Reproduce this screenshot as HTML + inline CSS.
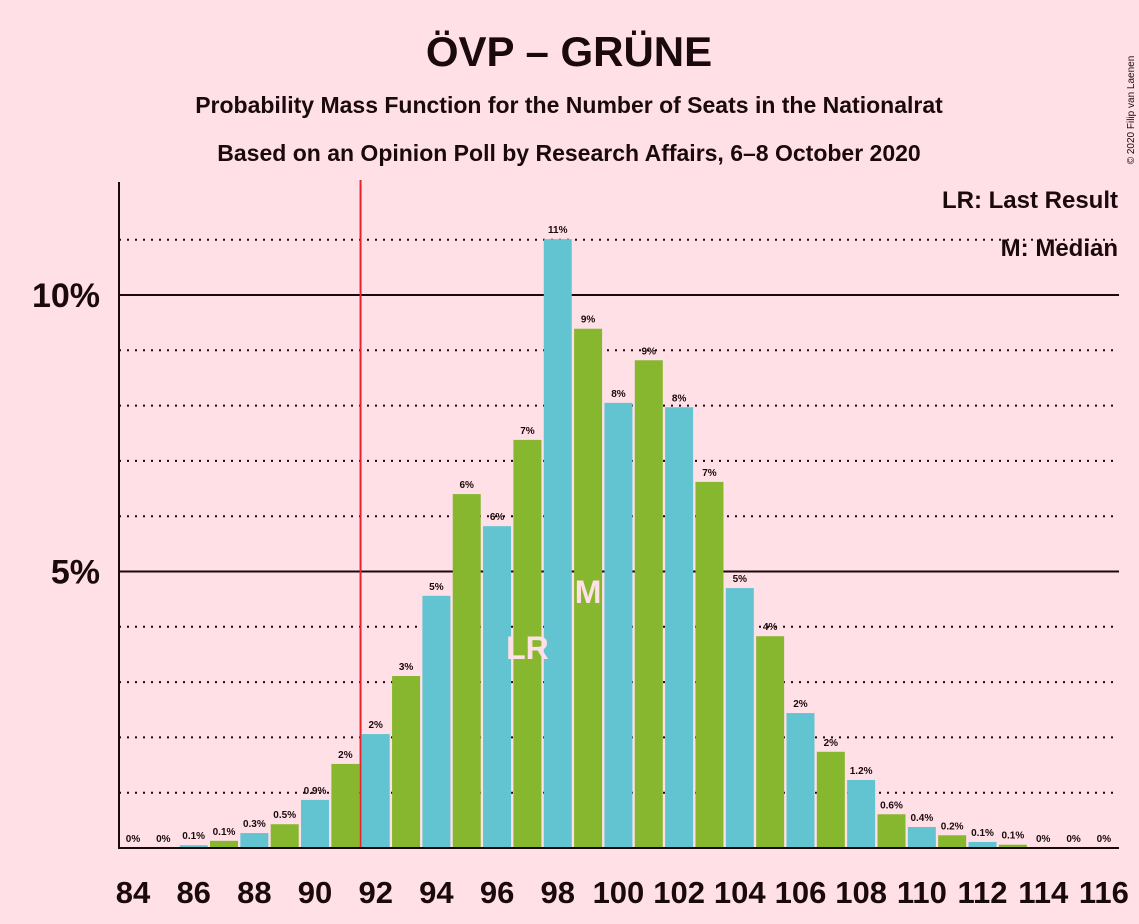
<!DOCTYPE html>
<html><head><meta charset="utf-8"><style>
body{margin:0;background:#FFE0E6;font-family:"Liberation Sans",sans-serif;}
svg{display:block}
</style></head><body>
<svg id="c" width="1139" height="924" xmlns="http://www.w3.org/2000/svg">
<rect width="1139" height="924" fill="#FFE0E6"/>
<text x="569" y="66" text-anchor="middle" font-size="42" font-weight="bold" fill="#1a0a0d">ÖVP – GRÜNE</text>
<text x="569" y="113" text-anchor="middle" font-size="23" font-weight="bold" fill="#1a0a0d">Probability Mass Function for the Number of Seats in the Nationalrat</text>
<text x="569" y="161" text-anchor="middle" font-size="23" font-weight="bold" fill="#1a0a0d">Based on an Opinion Poll by Research Affairs, 6–8 October 2020</text>
<text x="1118" y="208" text-anchor="end" font-size="24" font-weight="bold" fill="#1a0a0d">LR: Last Result</text>
<text x="1118" y="256" text-anchor="end" font-size="24" font-weight="bold" fill="#1a0a0d">M: Median</text>
<text transform="translate(1134,110) rotate(-90)" text-anchor="middle" font-size="10" fill="#1a0a0d">© 2020 Filip van Laenen</text>
<g id="grid"></g><g id="bars"></g><g id="labels"></g>
</svg>
<script>
const seats=[84,85,86,87,88,89,90,91,92,93,94,95,96,97,98,99,100,101,102,103,104,105,106,107,108,109,110,111,112,113,114,115,116];
const probs=[0,0,0.05,0.13,0.27,0.43,0.87,1.52,2.06,3.11,4.56,6.40,5.82,7.38,11.01,9.39,8.05,8.82,7.97,6.62,4.70,3.83,2.44,1.74,1.23,0.61,0.38,0.23,0.11,0.06,0,0,0];
const barLabels=["0%","0%","0.1%","0.1%","0.3%","0.5%","0.9%","2%","2%","3%","5%","6%","6%","7%","11%","9%","8%","9%","8%","7%","5%","4%","2%","2%","1.2%","0.6%","0.4%","0.2%","0.1%","0.1%","0%","0%","0%"];
const yTicks=[5,10];
const lastResult=97, median=99, majority=91.5;
const NS="http://www.w3.org/2000/svg";
const svg=document.getElementById('c');
const x=s=>133+(s-84)*30.34;
const y=v=>848-v*55.3;
function mk(t,a,p){const e=document.createElementNS(NS,t);for(const k in a)e.setAttribute(k,a[k]);(p||svg).appendChild(e);return e;}
const grid=document.getElementById('grid'),bars=document.getElementById('bars'),labs=document.getElementById('labels');
for(let v=1;v<=11;v++){
 if(v%5===0)continue;
 const l=mk('line',{x1:119,x2:1119,y1:y(v),y2:y(v),stroke:'#1a0a0d','stroke-width':2,'stroke-dasharray':'2,6'},grid);
 
 
}
yTicks.forEach(v=>{
 const l=mk('line',{x1:119,x2:1119,y1:y(v),y2:y(v),stroke:'#1a0a0d','stroke-width':2},grid);
 
 
 const t=mk('text',{x:100,y:y(v)+12,'text-anchor':'end','font-size':34,'font-weight':'bold',fill:'#1a0a0d'},labs);
 t.textContent=v+'%';
 
 
});
seats.forEach((s,i)=>{
 const v=probs[i];
 if(v>0){
  const r=mk('rect',{x:x(s)-14,y:y(v),width:28,height:848-y(v),fill:s%2===0?'#62C3D1':'#87B72E'},bars);
  
  
 }
 const t=mk('text',{x:x(s),y:y(v)-6,'text-anchor':'middle','font-size':10,'font-weight':'bold',fill:'#1a0a0d'},labs);
 t.textContent=barLabels[i];
 
 
 if(s%2===0){
  const xt=mk('text',{x:x(s),y:903,'text-anchor':'middle','font-size':31,'font-weight':'bold',fill:'#1a0a0d'},labs);
  xt.textContent=s;
  
  
 }
});
const lr=mk('text',{x:x(lastResult),y:659,'text-anchor':'middle','font-size':32,'font-weight':'bold',fill:'#FFE0E6'},labs);
lr.textContent='LR';


const md=mk('text',{x:x(median),y:603,'text-anchor':'middle','font-size':32,'font-weight':'bold',fill:'#FFE0E6'},labs);
md.textContent='M';


const rl=mk('line',{x1:x(majority),x2:x(majority),y1:180,y2:848,stroke:'#e8242b','stroke-width':2});


const ya=mk('line',{x1:119,x2:119,y1:182,y2:849,stroke:'#1a0a0d','stroke-width':2});


const xa=mk('line',{x1:118,x2:1119,y1:848,y2:848,stroke:'#1a0a0d','stroke-width':2});


</script>
</body></html>
